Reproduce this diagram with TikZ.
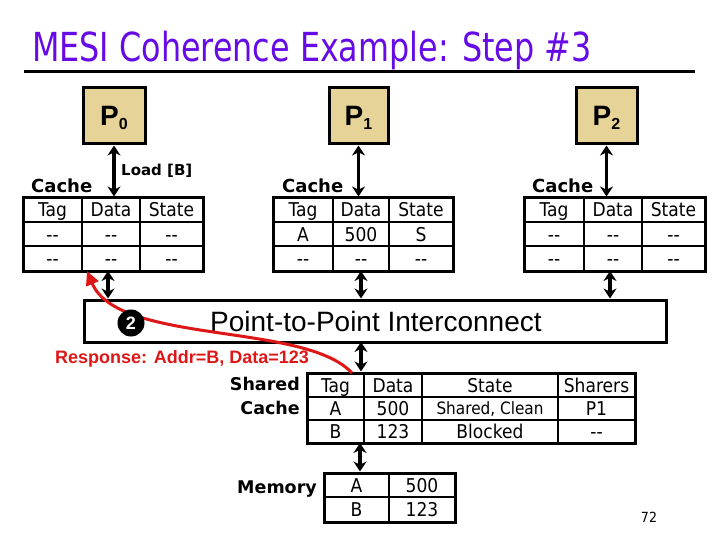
\documentclass[tikz,border=0pt]{standalone}
\usepackage{fontspec}
\usetikzlibrary{arrows.meta}
\newfontfamily\tahfont[FakeStretch=0.9]{DejaVu Sans}
\newfontfamily\titfont[FakeStretch=0.795]{DejaVu Sans}
\newfontfamily\vbfont{DejaVu Sans}
\newfontfamily\arifont{Liberation Sans}
\definecolor{titlec}{RGB}{102,10,230}
\definecolor{tanc}{RGB}{230,211,152}
\definecolor{redc}{RGB}{222,22,22}
\newcommand\mkcache[9]{%
  % #1 name, #2 xl, #3 x1, #4 x2, #5 xr, #6-#8 row2, #9 Cache label x
  \node[tbl, minimum width={(#5-#2)*1pt}, minimum height=73pt] (#1) at ({(#2+#5)/2},234.5) {};
  \draw[gridl] (#3,198) -- (#3,271) (#4,198) -- (#4,271) (#2,222) -- (#5,222) (#2,246) -- (#5,246);
  \node[cell] (#1h1) at ({(#2+#3)/2},210) {Tag};
  \node[cell] (#1h2) at ({(#3+#4)/2},210) {Data};
  \node[cell] (#1h3) at ({(#4+#5)/2},210) {State};
  \node[cell] (#1a1) at ({(#2+#3)/2},234) {#6};
  \node[cell] (#1a2) at ({(#3+#4)/2},234) {#7};
  \node[cell] (#1a3) at ({(#4+#5)/2},234) {#8};
  \node[cell] (#1b1) at ({(#2+#3)/2},258.5) {-{}-};
  \node[cell] (#1b2) at ({(#3+#4)/2},258.5) {-{}-};
  \node[cell] (#1b3) at ({(#4+#5)/2},258.5) {-{}-};
  \node[blabel, anchor=base west] (#1lab) at (#9,193) {Cache};
}
\begin{document}
\begin{tikzpicture}[x=1pt,y=-1pt,
  pbox/.style={draw, line width=3pt, fill=tanc, minimum height=56pt, inner sep=0pt,
    text height=20pt, text depth=0pt, font={\arifont\bfseries\fontsize{28}{28}\selectfont}},
  tbl/.style={draw, line width=3pt, inner sep=0pt},
  gridl/.style={line width=1.6pt},
  cell/.style={font={\tahfont\fontsize{19}{19}\selectfont}, text height=14pt, text depth=0pt, inner sep=0pt},
  blabel/.style={font={\vbfont\bfseries\fontsize{18}{18}\selectfont}, inner sep=0pt},
  slabel/.style={font={\vbfont\bfseries\fontsize{17.5}{17.5}\selectfont}, inner sep=0pt, text height=13pt, text depth=0pt},
  dbl/.style={{Stealth[length=10pt,width=13pt]}-{Stealth[length=10pt,width=13pt]}, line width=3.4pt},
  resp/.style={-{Triangle[length=14pt,width=13pt]}, line width=3pt, draw=redc},
]
\useasboundingbox (0,0) rectangle (720,540);
% title
\node[anchor=base west, inner sep=0pt, text=titlec, font={\titfont\fontsize{40}{40}\selectfont}] (title) at (32,62) {MESI Coherence Example: Step \#3};
\draw[line width=3pt] (24,72) -- (695,72);
% processors
\node[pbox, minimum width=62pt] (p0) at (114,116) {P\raisebox{-4pt}{\fontsize{16}{16}\selectfont 0}};
\node[pbox, minimum width=59pt] (p1) at (358.5,116) {P\raisebox{-4pt}{\fontsize{16}{16}\selectfont 1}};
\node[pbox, minimum width=61pt] (p2) at (606.5,116) {P\raisebox{-4pt}{\fontsize{16}{16}\selectfont 2}};
% caches
\mkcache{c0}{23}{82}{140}{203}{-{}-}{-{}-}{-{}-}{31}
\mkcache{c1}{273}{333}{389}{453}{A}{500}{S}{282}
\mkcache{c2}{524}{584}{642}{705}{-{}-}{-{}-}{-{}-}{532}
\draw[dbl] (p0.south) -- (p0.south |- c0.north);
\draw[dbl] (p1.south) -- (p1.south |- c1.north);
\draw[dbl] (p2.south) -- (p2.south |- c2.north);
\node[anchor=west, inner sep=0pt, font={\vbfont\bfseries\fontsize{15}{15}\selectfont}] (load) at (121,171) {Load [B]};
% interconnect
\node[draw, line width=3pt, minimum width=582pt, minimum height=42pt, inner sep=0pt] (ic) at (375,321) {};
\node[anchor=west, inner sep=0pt, text height=20pt, text depth=0pt, font={\arifont\fontsize{28}{28}\selectfont}] (iclab) at (210,321) {Point-to-Point Interconnect};
\coordinate (b0) at (108,271);
\coordinate (b1) at (361,271);
\coordinate (b2) at (610,271);
\draw[dbl] (b0) -- (b0 |- ic.north);
\draw[dbl] (b1) -- (b1 |- ic.north);
\draw[dbl] (b2) -- (b2 |- ic.north);
% shared cache
\node[tbl, minimum width=328pt, minimum height=70pt] (sc) at (471,408) {};
\draw[gridl] (364,373) -- (364,443) (422,373) -- (422,443) (558,373) -- (558,443)
  (307,397) -- (635,397) (307,420) -- (635,420);
\node[cell] (sh1) at (335.5,385) {Tag};
\node[cell] (sh2) at (393,385) {Data};
\node[cell] (sh3) at (490,385) {State};
\node[cell] (sh4) at (596.5,385) {Sharers};
\node[cell] (sa1) at (335.5,408.5) {A};
\node[cell] (sa2) at (393,408.5) {500};
\node[cell, font={\tahfont\fontsize{17}{17}\selectfont}, text height=12.5pt] (sa3) at (490,408.5) {Shared, Clean};
\node[cell] (sa4) at (596.5,408.5) {P1};
\node[cell] (sb1) at (335.5,431.5) {B};
\node[cell] (sb2) at (393,431.5) {123};
\node[cell] (sb3) at (490,431.5) {Blocked};
\node[cell] (sb4) at (596.5,431.5) {-{}-};
\node[slabel, anchor=east] (shl1) at (300,384) {Shared};
\node[slabel, anchor=east] (shl2) at (300,408) {Cache};
\coordinate (ict) at (361,342);
\draw[dbl] (ict) -- (ict |- sc.north);
% memory
\node[tbl, minimum width=131pt, minimum height=49pt] (mem) at (389.5,497.5) {};
\draw[gridl] (389,473) -- (389,522) (324,497) -- (455,497);
\node[cell] (ma1) at (356.5,485) {A};
\node[cell] (ma2) at (422,485) {500};
\node[cell] (mb1) at (356.5,509.5) {B};
\node[cell] (mb2) at (422,509.5) {123};
\node[slabel, anchor=east] (meml) at (317,487) {Memory};
\coordinate (sct) at (360,443);
\draw[dbl] (sct) -- (sct |- mem.north);
% response
\coordinate (rs) at (352,373);
\coordinate (re) at (87,271);
\draw[resp] (rs) .. controls (305,322) and (118,345) .. (re);
\node[circle, fill=black, minimum size=27pt, inner sep=0pt, text=white, font={\arifont\bfseries\fontsize{18}{18}\selectfont}] (two) at (131,323) {2};
\node[anchor=west, inner sep=0pt, text=redc, text height=13pt, text depth=0pt, font={\arifont\bfseries\fontsize{18}{18}\selectfont}] (resptxt) at (55,357) {Response: Addr=B, Data=123};
% page number
\node[inner sep=0pt, font={\tahfont\fontsize{14}{14}\selectfont}] (pg) at (649,517) {72};
\end{tikzpicture}
\end{document}
